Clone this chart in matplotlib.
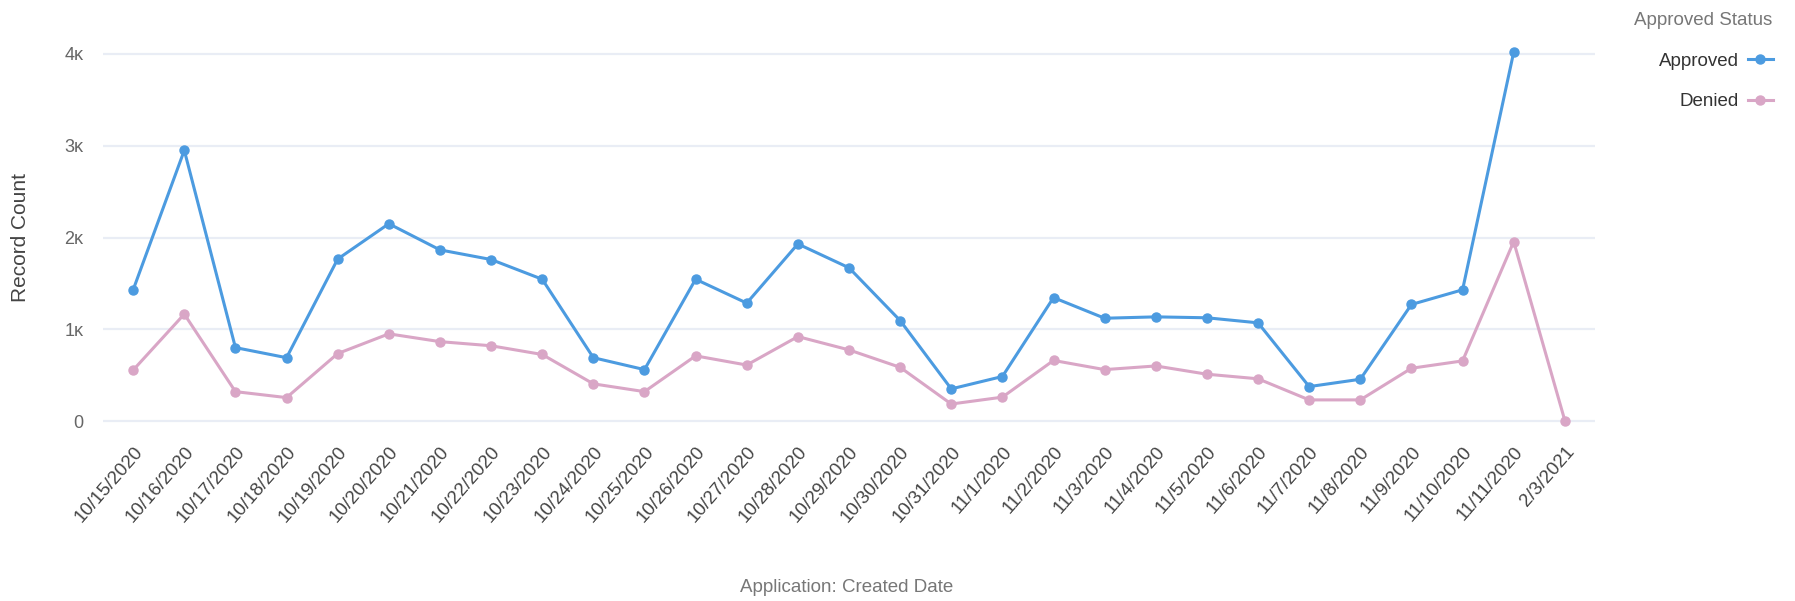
import matplotlib
matplotlib.use("Agg")
import matplotlib.pyplot as plt
from matplotlib.lines import Line2D
from matplotlib import font_manager

dates = ["10/15/2020", "10/16/2020", "10/17/2020", "10/18/2020", "10/19/2020",
         "10/20/2020", "10/21/2020", "10/22/2020", "10/23/2020", "10/24/2020",
         "10/25/2020", "10/26/2020", "10/27/2020", "10/28/2020", "10/29/2020",
         "10/30/2020", "10/31/2020", "11/1/2020", "11/2/2020", "11/3/2020",
         "11/4/2020", "11/5/2020", "11/6/2020", "11/7/2020", "11/8/2020",
         "11/9/2020", "11/10/2020", "11/11/2020", "2/3/2021"]

approved = [1430, 2950, 800, 690, 1765, 2150, 1865, 1760, 1545, 690,
            560, 1545, 1285, 1930, 1670, 1095, 350, 485, 1345, 1120,
            1135, 1125, 1070, 375, 455, 1270, 1430, 4020, None]

denied = [555, 1165, 320, 255, 735, 950, 865, 820, 725, 405,
          320, 710, 610, 920, 775, 585, 185, 260, 660, 560,
          600, 510, 460, 230, 230, 575, 655, 1955, 5]

yticks = [0, 1000, 2000, 3000, 4000]
yticklabels = ["0", "1\u1d0b", "2\u1d0b", "3\u1d0b", "4\u1d0b"]

names = {f.name for f in font_manager.fontManager.ttflist}
fam = ["Liberation Sans Narrow", "DejaVu Sans"] if "Liberation Sans Narrow" in names else ["Liberation Sans", "DejaVu Sans"]
plt.rcParams["font.family"] = fam

BLUE = "#4C9BE0"
PINK = "#D9A6C6"

W, H = 1795, 601
fig = plt.figure(figsize=(W / 100, H / 100), dpi=100)
left, right = 103, 1595
ylo, yhi = -200, 4200
pxk = 91.75
top_px = 54 - 0.2 * pxk
bot_px = 421 + 0.2 * pxk
ax = fig.add_axes([left / W, 1 - bot_px / H, (right - left) / W, (bot_px - top_px) / H])

x = list(range(len(dates)))
ax_x = [i for i, v in zip(x, approved) if v is not None]
ax_y = [v for v in approved if v is not None]
ax.plot(ax_x, ax_y, color=BLUE, lw=2.2, marker="o", ms=6.5, zorder=3)
ax.plot(x, denied, color=PINK, lw=2.2, marker="o", ms=6.5, zorder=3)

ax.set_xlim(-0.59, len(dates) - 1 + 0.59)
ax.set_ylim(ylo, yhi)
ax.set_yticks(yticks)
ax.set_yticklabels(yticklabels)
ax.set_xticks(x)
ax.set_xticklabels(dates, rotation=49, ha="right", rotation_mode="anchor")
for s in ax.spines.values():
    s.set_visible(False)
ax.grid(axis="y", color="#E9EDF5", lw=1.6)
ax.set_axisbelow(True)
ax.tick_params(axis="y", length=0, pad=14, labelsize=13, labelcolor="#666666")
ax.tick_params(axis="x", length=0, pad=3, labelsize=13.5, labelcolor="#444444")

fig.text(847 / W, 1 - 588 / H, "Application: Created Date", ha="center", va="center",
         fontsize=13.5, color="#777777")
fig.text(21 / W, 1 - 238 / H, "Record Count", ha="center", va="center", rotation=90,
         fontsize=15, color="#444444")

handles = [Line2D([], [], color=BLUE, lw=2.2, marker="o", ms=6.5),
           Line2D([], [], color=PINK, lw=2.2, marker="o", ms=6.5)]
leg = ax.legend(handles, ["Approved", "Denied"], title="Approved Status",
                markerfirst=False, alignment="right", frameon=False,
                loc="upper right", bbox_to_anchor=(1782 / W, 1 - 3 / H),
                bbox_transform=fig.transFigure, handlelength=1.3, borderpad=0,
                handletextpad=0.5, labelspacing=1.25, fontsize=13.5)
leg.get_title().set_color("#777777")
leg.get_title().set_fontsize(13.5)
for t in leg.get_texts():
    t.set_color("#333333")

fig.savefig("out.png", dpi=100, facecolor="white")
